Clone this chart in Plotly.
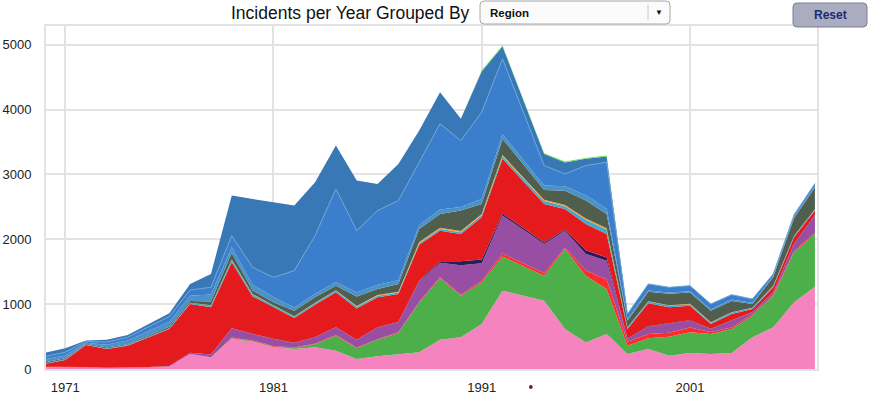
import plotly.graph_objects as go

# ---------------- data ----------------
years = list(range(1970, 1993)) + list(range(1994, 2008))

pink = [30, 30, 25, 15, 15, 25, 40, 230, 180, 463, 421, 334, 309, 334, 282, 154, 195, 221, 257, 450, 488, 694, 1208,
        1054, 617, 410, 540, 231, 309, 205, 247, 231, 247, 488, 642, 1028, 1270]
green = [0, 0, 0, 0, 0, 0, 0, 0, 0, 12, 9, 11, 11, 46, 232, 166, 255, 334, 763, 950, 643, 643, 527,
         386, 1235, 1030, 694, 129, 166, 293, 318, 309, 370, 335, 489, 772, 813]
light_red = [0, 0, 0, 0, 0, 0, 0, 0, 0, 10, 10, 10, 10, 10, 11, 10, 10, 10, 15, 15, 14, 23, 45,
             40, 18, 80, 146, 60, 65, 62, 75, 30, 23, 22, 19, 20, 17]
purple = [5, 5, 5, 5, 5, 5, 5, 20, 45, 142, 100, 108, 71, 98, 117, 120, 180, 155, 315, 225, 455, 270, 586,
          449, 264, 255, 291, 43, 110, 134, 105, 47, 105, 29, 32, 109, 266]
dark_navy = [0, 0, 0, 0, 0, 0, 0, 0, 0, 3, 2, 2, 2, 2, 3, 2, 3, 3, 10, 20, 60, 60, 34,
             21, 16, 55, 49, 7, 10, 6, 5, 3, 5, 6, 3, 6, 4]
red = [42, 104, 340, 289, 340, 458, 572, 753, 726, 1015, 578, 490, 382, 500, 537, 483, 462, 434, 555, 474, 423, 650, 841,
       596, 319, 408, 363, 147, 355, 251, 227, 74, 99, 46, 75, 96, 73]
teal = [8, 11, 8, 9, 10, 12, 13, 17, 29, 35, 30, 25, 25, 25, 28, 25, 25, 23, 25, 26, 27, 30, 39,
        44, 41, 62, 67, 23, 25, 29, 23, 21, 21, 14, 20, 19, 17]
orange = [0, 0, 0, 0, 0, 0, 0, 0, 5, 10, 5, 5, 5, 5, 5, 10, 10, 10, 20, 20, 20, 20, 20,
          20, 20, 20, 20, 5, 5, 5, 5, 5, 5, 5, 5, 5, 5]
dark_grey = [15, 15, 12, 12, 12, 15, 20, 30, 55, 100, 55, 43, 85, 85, 70, 150, 95, 122, 200, 212, 313, 156, 249,
             152, 221, 277, 222, 100, 145, 175, 175, 180, 175, 58, 135, 275, 335]
light_blue = [50, 45, 15, 45, 58, 75, 80, 80, 110, 90, 90, 82, 50, 55, 55, 60, 65, 58, 60, 68, 57, 74, 71,
              68, 69, 83, 78, 25, 20, 20, 20, 20, 20, 17, 15, 15, 15]
blue = [40, 50, 20, 40, 50, 60, 80, 90, 110, 177, 268, 304, 567, 897, 1438, 954, 1143, 1227, 968, 1321, 1023, 1340, 1164,
        307, 189, 457, 718, 79, 102, 80, 85, 83, 76, 60, 31, 35, 45]
steel = [60, 60, 15, 35, 35, 44, 48, 92, 206, 617, 1055, 1157, 1003, 823, 668, 772, 412, 566, 489, 488, 335, 630, 191,
         178, 176, 105, 90, 0, 0, 0, 0, 0, 0, 0, 0, 0, 0]
bright_green = [0] * 21 + [13, 14, 13, 14, 14, 14] + [0] * 10

series = [
    ("Middle East & North Africa", pink, "#f583c0"),
    ("South Asia", green, "#4daf4a"),
    ("Southeast Asia", light_red, "#ff2b2b"),
    ("Sub-Saharan Africa", purple, "#984ea3"),
    ("East Asia", dark_navy, "#2b1b5c"),
    ("Western Europe", red, "#e41a1c"),
    ("Eastern Europe", teal, "#45a8c8"),
    ("Central Asia", orange, "#ff9a2a"),
    ("North America", dark_grey, "#4f5e4d"),
    ("Australasia & Oceania", light_blue, "#4b92c8"),
    ("South America", blue, "#3b7fcc"),
    ("Central America & Caribbean", steel, "#3978b6"),
    ("Other", bright_green, "#5fe04a"),
]

y_ticks = [0, 1000, 2000, 3000, 4000, 5000]
x_ticks = [1971, 1981, 1991, 2001]
title_text = "Incidents per Year Grouped By"
dropdown_text = "Region"
button_text = "Reset"

# ---------------- figure ----------------
W, H = 870, 396
L, R, T, B = 46, 53, 26, 27
PW, PH = W - L - R, H - T - B


def px(x):
    return (x - L) / PW


def py(y):
    return (H - B - y) / PH


fig = go.Figure()
for name, vals, col in series:
    line = dict(width=0, color=col)
    if name == "South America":
        line = dict(width=1, color="#6fa3d6")
    fig.add_trace(go.Scatter(
        x=years, y=vals, name=name, mode="lines", stackgroup="one",
        line=line, fillcolor=col, hoverinfo="skip"))

grid = "#e3e3e3"
fig.update_layout(
    width=W, height=H,
    margin=dict(l=L, r=R, t=T, b=B, pad=0, autoexpand=False),
    paper_bgcolor="white", plot_bgcolor="white",
    showlegend=False,
    font=dict(family="Liberation Sans, Arial, sans-serif", color="#222"),
    xaxis=dict(range=[1970.08, 2007.1], tickvals=x_ticks, showgrid=True, gridcolor=grid, gridwidth=2,
               zeroline=False, showline=True, linecolor=grid, linewidth=2, mirror=True, automargin=False,
               tickfont=dict(size=13, color="#222"), ticks="", ticklabelstandoff=5),
    yaxis=dict(range=[0, 5290], tickvals=y_ticks, showgrid=True, gridcolor=grid, gridwidth=2,
               zeroline=False, showline=True, linecolor=grid, linewidth=2, mirror=True, automargin=False,
               tickfont=dict(size=13, color="#222"), ticks="", ticklabelstandoff=10),
)

shapes = []


def rrect(x0, y0, x1, y1, r):
    # rounded rectangle path in paper coords from pixel coords
    X0, X1 = px(x0), px(x1)
    Y0, Y1 = py(y1), py(y0)
    rx, ry = r / PW, r / PH
    return (f"M {X0+rx},{Y0} L {X1-rx},{Y0} Q {X1},{Y0} {X1},{Y0+ry} L {X1},{Y1-ry} "
            f"Q {X1},{Y1} {X1-rx},{Y1} L {X0+rx},{Y1} Q {X0},{Y1} {X0},{Y1-ry} L {X0},{Y0+ry} "
            f"Q {X0},{Y0} {X0+rx},{Y0} Z")


shapes.append(dict(type="path", xref="paper", yref="paper", path=rrect(480, 1, 670, 24, 4),
                   fillcolor="#fbfbfb", line=dict(color="#a8a8a8", width=1), layer="above"))
shapes.append(dict(type="line", xref="paper", yref="paper", x0=px(648), x1=px(648), y0=py(5), y1=py(20),
                   line=dict(color="#c8c8c8", width=1)))
shapes.append(dict(type="path", xref="paper", yref="paper", path=rrect(793, 3, 867, 27, 4),
                   fillcolor="#aaacc0", line=dict(color="#7e808e", width=1), layer="above"))
# missing-year marker
shapes.append(dict(type="circle", xref="x", yref="paper", x0=1993.27, x1=1993.45,
                   y0=py(389), y1=py(385), fillcolor="#7a1a22", line=dict(width=0)))
fig.update_layout(shapes=shapes)

ann = [
    dict(text=title_text, x=px(472), y=py(13), xanchor="right", yanchor="middle",
         font=dict(size=17.5, color="#111")),
    dict(text="<b>" + dropdown_text + "</b>", x=px(488), y=py(12.5), xanchor="left", yanchor="middle",
         font=dict(size=11.5, color="#111")),
    dict(text="▼", x=px(659), y=py(12.5), xanchor="center", yanchor="middle",
         font=dict(size=8, color="#111")),
    dict(text="<b>" + button_text + "</b>", x=px(830), y=py(15), xanchor="center", yanchor="middle",
         font=dict(size=12, color="#1b2a73")),
]
for a in ann:
    a.update(xref="paper", yref="paper", showarrow=False)
fig.update_layout(annotations=ann)

fig.write_html("out.html", config={"displayModeBar": False},
               post_script="document.body.style.margin='0';document.body.style.padding='0';")
